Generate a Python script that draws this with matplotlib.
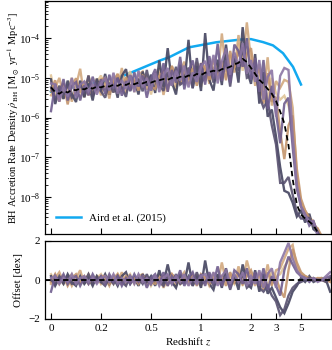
import numpy as np
import matplotlib
matplotlib.use("Agg")
import matplotlib.pyplot as plt
from matplotlib.ticker import NullLocator, NullFormatter, FixedLocator, LogFormatterSciNotation

plt.rcParams['font.family'] = ['Liberation Serif', 'DejaVu Serif']
plt.rcParams['mathtext.fontset'] = 'stix'

# ---------------- data ----------------
redshift = [0.0, 0.0167, 0.0333, 0.05, 0.0667, 0.0833, 0.1, 0.1167, 0.1333, 0.15, 0.1667, 0.1833, 0.2,
            0.225, 0.25, 0.275, 0.3, 0.325, 0.35, 0.375, 0.4, 0.425, 0.45, 0.475, 0.5,
            0.542, 0.583, 0.625, 0.667, 0.708, 0.75, 0.792, 0.833, 0.875, 0.917, 0.958, 1.0,
            1.083, 1.167, 1.25, 1.333, 1.417, 1.5, 1.583, 1.667, 1.75, 1.833, 1.917, 2.0,
            2.167, 2.333, 2.5, 2.667, 2.833, 3.0,
            3.333, 3.667, 4.0, 4.333, 4.667, 5.0,
            5.69, 6.39, 7.08, 7.78, 8.47, 9.17, 9.86]

median_log = [-5.24, -5.36, -5.40, -5.33, -5.37, -5.30, -5.31, -5.27, -5.29, -5.24, -5.27, -5.22, -5.24,
              -5.20, -5.22, -5.17, -5.20, -5.15, -5.18, -5.13, -5.16, -5.12, -5.14, -5.10, -5.12,
              -5.08, -5.06, -5.03, -5.05, -5.00, -5.02, -4.97, -4.99, -4.94, -4.96, -4.90, -4.93,
              -4.87, -4.85, -4.82, -4.84, -4.78, -4.76, -4.72, -4.66, -4.62, -4.52, -4.60, -4.75,
              -4.90, -5.05, -5.15, -5.28, -5.40, -5.58,
              -5.85, -6.15, -6.70, -7.55, -8.20, -8.45,
              -8.55, -8.63, -8.72, -8.90, -9.10, -9.30, -9.50]

# offsets from the median, in units of 0.1 dex
offset_a = [2, -3, 1, -2, 3, -1, -3, 2, -2, 1, -3, 2, -1,
            3, -2, 1, -3, 2, 4, -2, 1, -3, 3, -1, 2,
            -3, 5, -2, 8, -1, -4, 3, -2, 9, -3, 2, -4,
            10, -2, -5, 3, -4, 6, -3, 2, -5, 8, -2, -4,
            5, -6, 3, -7, -4, -9,
            -14, -17, -12, -6, -3, 1,
            -1, 2, -1, 0, 1, 0, -6]
offset_b = [-6, 2, -1, 3, -2, 1, 2, -3, 1, -2, 3, -1, 2,
            -2, 3, -1, 2, -3, 1, -2, 3, -1, 2, -4, 1,
            3, -2, 4, -3, 2, -1, 5, -3, 1, 4, -2, 3,
            -3, 4, -2, 7, -3, 2, -4, 5, 3, -2, 6, -3,
            4, -3, 6, -5, 2, -3,
            -8, 5, 12, 8, 4, 2,
            1, -1, 1, 0, 0, 1, 2]
offset_c = [1, 2, -2, 1, -1, 3, -2, 1, 2, -1, 1, -2, 1,
            2, -1, 3, -2, 1, -1, 2, -2, 3, -1, 1, -2,
            2, -3, 1, 3, -2, 2, -1, 3, -3, 1, -2, 2,
            3, -1, 4, -3, 2, 5, -2, 3, -1, 4, -3, 2,
            -2, 5, -4, 3, 6, -4,
            9, 14, 19, 11, 5, 2,
            1, 0, 1, -1, 0, 2, 4]
offset_d = [-2, 1, 4, -1, 2, -3, 1, 5, -2, 3, -1, 2, -2,
            1, -3, 2, -1, 4, -2, 1, -1, 2, 3, -2, 1,
            -1, 2, -4, 1, 3, -2, 1, 4, -2, -1, 3, -3,
            2, -3, 1, -2, 9, -1, 3, -2, 7, -1, 10, 2,
            -3, 4, -2, 8, -3, 5,
            6, 11, 16, 18, 7, 3,
            2, 1, 1, 0, 0, -1, 0]
offset_e = [3, -1, 2, -2, 1, 3, -1, -2, 1, 2, -2, 1, 3,
            -1, 2, -2, 3, -1, 1, 3, -2, 1, -1, 2, -3,
            1, 3, -2, 2, -1, -3, 2, 1, -2, 3, -1, 1,
            -2, 3, -1, 2, -3, 4, 1, -2, 5, -3, 4, -1,
            3, -4, 2, -3, 4, 2,
            3, 7, 10, 14, 6, 2,
            1, 1, 0, 1, 0, 0, 1]
offset_f = [-1, 3, -2, 2, -3, 1, 3, -1, 2, -2, 1, -1, 2,
            2, -2, 1, 3, -2, 2, -1, 1, -2, 2, 1, -1,
            -2, 1, 2, -3, 3, 1, -2, 2, -1, 2, -3, 3,
            1, -2, 3, -1, 2, -3, 4, -1, 3, -2, 2, 5,
            -1, 3, -5, 4, -2, 1,
            -5, -9, 5, 16, 9, 4,
            2, 1, 0, 1, 1, 0, -1]
offset_g = [0, -2, 2, -1, 2, -2, -1, 1, -1, 3, -2, 1, -1,
            -3, 1, -2, 2, -1, -3, 2, -1, 1, -2, 3, -2,
            2, -1, -3, 2, -2, 3, -2, -1, 2, -3, 4, -2,
            -1, 2, -3, 1, -2, 3, -5, 2, -2, 3, -4, -2,
            2, -4, -6, -3, -8, -11,
            -18, -15, -8, -4, -2, -1,
            0, 1, 0, 0, 0, -1, 1]

aird_z = [0.0, 0.1, 0.27, 0.59, 0.68, 0.88, 1.3, 1.84, 2.0, 2.48, 2.88, 3.56, 4.36, 5.0]
aird_rho = [4.5e-6, 6.0e-6, 8.7e-6, 2.75e-5, 3.3e-5, 5.9e-5, 7.9e-5, 9.4e-5, 9.5e-5, 8.0e-5, 6.6e-5, 4.2e-5, 1.9e-5, 6.8e-6]

z_ticks = [0, 0.2, 0.5, 1, 2, 3, 5]
z_tick_labels = ['0', '0.2', '0.5', '1', '2', '3', '5']
rho_ticks = [1e-8, 1e-7, 1e-6, 1e-5, 1e-4]
offset_ticks = [-2, 0, 2]
offset_tick_labels = ['\u22122', '0', '2']

# axis mapping (redshift -> axis position), as in the reference axis
scale_z = [-1.0, 0.0, 0.2, 0.5, 1.0, 2.0, 3.0, 5.0, 10.0, 100.0]
scale_pos = [-5.0, 0.0, 1.0, 2.0, 3.0, 4.0, 4.5, 5.0, 5.6, 16.4]

line_order = [('e', offset_e, '#e0c598'), ('d', offset_d, '#d2a97f'), ('a', offset_a, '#44445f'),
              ('f', offset_f, '#c4956d'), ('g', offset_g, '#57506f'), ('b', offset_b, '#6f5d8e'),
              ('c', offset_c, '#8b75a3')]

# ---------------- plot ----------------
def fwd(z):
    return np.interp(z, scale_z, scale_pos)

def inv(p):
    return np.interp(p, scale_pos, scale_z)

fig = plt.figure(figsize=(3.32, 3.5), dpi=100)
ax1 = fig.add_axes([45/332, 1 - 234/350, 286/332, 233/350])
ax2 = fig.add_axes([45/332, 1 - 319/350, 286/332, 78/350], sharex=ax1)

z = np.array(redshift)
med = np.array(median_log)
for name, off, col in line_order:
    o = np.array(off) * 0.1
    ax1.plot(z, 10 ** (med + o), color=col, lw=1.7, alpha=0.9, solid_joinstyle='miter')
    ax2.plot(z, o, color=col, lw=1.7, alpha=0.9, solid_joinstyle='miter')

ax1.plot(aird_z, aird_rho, color='#12a9f0', lw=1.8, label='Aird et al. (2015)', zorder=1)
ax1.plot(z, 10 ** med, color='black', lw=1.3, ls=(0, (3, 2)), zorder=5)
ax2.axhline(0, color='black', lw=1.3, ls=(0, (3, 2)), zorder=5)

ax1.set_xscale('function', functions=(fwd, inv))
ax1.set_yscale('log')
ax1.set_xlim(-0.024, 10)
ax1.set_ylim(10 ** -8.94, 10 ** -3.06)
ax1.xaxis.set_major_locator(FixedLocator(z_ticks))
ax1.xaxis.set_minor_locator(NullLocator())
ax1.set_xticklabels(z_tick_labels)

# log ticks restricted to the visible range
lo, hi = ax1.get_ylim()
minor = [m * d for d in [1e-9, 1e-8, 1e-7, 1e-6, 1e-5, 1e-4] for m in range(2, 10) if lo <= m * d <= hi]
ax1.yaxis.set_major_locator(FixedLocator(rho_ticks))
ax1.yaxis.set_major_formatter(LogFormatterSciNotation())
ax1.yaxis.set_minor_locator(FixedLocator(minor))
ax1.yaxis.set_minor_formatter(NullFormatter())
ax1.tick_params(axis='x', labelbottom=False)

ax2.set_ylim(-2, 2)
ax2.yaxis.set_major_locator(FixedLocator(offset_ticks))
ax2.set_yticklabels(offset_tick_labels)

for ax in (ax1, ax2):
    ax.tick_params(which='both', direction='in', labelsize=8, top=False, right=False)
    ax.tick_params(which='major', length=4, width=0.8)
    ax.tick_params(which='minor', length=2, width=0.6)
    for s in ax.spines.values():
        s.set_linewidth(0.9)

ax1.set_ylabel(r'BH Accretion Rate Density $\dot{\rho}_{\rm BH}$ [M$_\odot$ yr$^{-1}$ Mpc$^{-3}$]', fontsize=7.5)
ax1.yaxis.set_label_coords(-0.085, 0.5)
ax2.set_ylabel('Offset [dex]', fontsize=8)
ax2.yaxis.set_label_coords(-0.078, 0.5)
ax2.set_xlabel('Redshift $z$', fontsize=8, labelpad=2)

ax1.legend(loc='lower left', frameon=False, fontsize=8, handlelength=2.2, borderaxespad=0.6)

fig.savefig('out.png', dpi=100)
